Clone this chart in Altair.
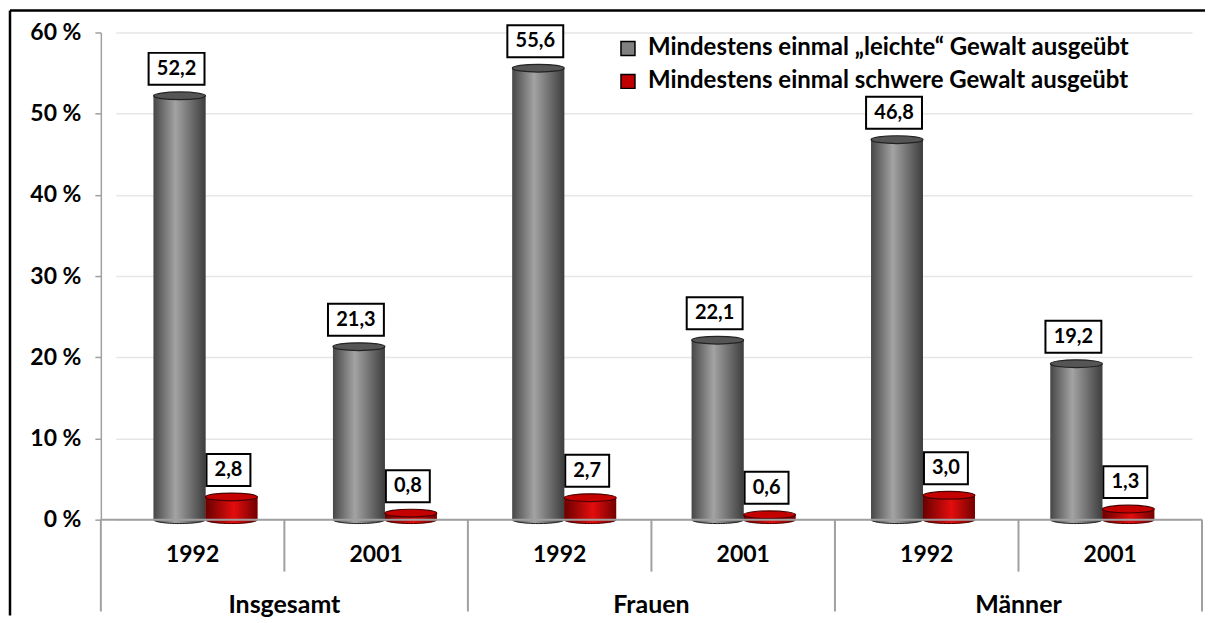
import altair as alt
import pandas as pd

# ---------------- data ----------------
groups = ["Insgesamt", "Insgesamt", "Frauen", "Frauen", "Männer", "Männer"]
years = ["1992", "2001", "1992", "2001", "1992", "2001"]
leichte = [52.2, 21.3, 55.6, 22.1, 46.8, 19.2]
schwere = [2.8, 0.8, 2.7, 0.6, 3.0, 1.3]
series_names = [
    "Mindestens einmal „leichte“ Gewalt ausgeübt",
    "Mindestens einmal schwere Gewalt ausgeübt",
]
y_ticks = [0, 10, 20, 30, 40, 50, 60]

# ---------------- styling ----------------
W, H = 1103, 488
FONT = "Lato"
GRAY, RED = "#808080", "#c00000"
BAR_W = 52

keys = [f"{g} {y}" for g, y in zip(groups, years)]


def fmt(v):
    return f"{v:.1f}".replace(".", ",")


rows = []
for k, g, yr, a, b in zip(keys, groups, years, leichte, schwere):
    rows.append(dict(key=k, group=g, year=yr, series=series_names[0], value=a, label=fmt(a), zero=0))
    rows.append(dict(key=k, group=g, year=yr, series=series_names[1], value=b, label=fmt(b), zero=0))
df = pd.DataFrame(rows)
cats = pd.DataFrame(dict(key=keys, group=groups, year=years))


def grad(c0, cm, c1, mid):
    return alt.Gradient(
        gradient="linear", x1=0, x2=1, y1=0, y2=0,
        stops=[alt.GradientStop(offset=0, color=c0),
               alt.GradientStop(offset=mid, color=cm),
               alt.GradientStop(offset=1, color=c1)],
    )


gray_grad = grad("#474747", "#a3a3a3", "#3d3d3d", 0.42)
red_grad = grad("#6a0000", "#e40d0d", "#720000", 0.55)

ELLIPSE = "M -1 0 A 1 0.15 0 1 0 1 0 A 1 0.15 0 1 0 -1 0 Z"


def box_path(w, h, dx):
    s = w / 2.0
    hx = 1.0
    hy = (h / 2.0) / s
    o = dx / s
    return f"M {-hx+o:.4f} {-hy:.4f} L {hx+o:.4f} {-hy:.4f} L {hx+o:.4f} {hy:.4f} L {-hx+o:.4f} {hy:.4f} Z"


# ---------------- bars (own x scale: back wall of the 3D plot) ----------------
xb = alt.X("key:N", scale=alt.Scale(domain=keys, range=[15, 1093], paddingInner=0, paddingOuter=0), axis=None)
xo = alt.XOffset("series:N", scale=alt.Scale(domain=series_names, paddingInner=0, paddingOuter=0.728))
yv = alt.Y(
    "value:Q",
    scale=alt.Scale(domain=[0, 60], nice=False),
    title=None,
    axis=alt.Axis(
        values=y_ticks, labelExpr="datum.value + ' %'",
        labelFont=FONT, labelFontSize=23, labelFontWeight="bold", labelColor="black",
        domainColor="#a0a0a0", domainWidth=1.5, tickColor="#a0a0a0", tickSize=6, tickWidth=1.5,
        labelPadding=14, grid=True, gridColor="#e6e6e6", gridWidth=1.5,
    ),
)

base_bars = alt.Chart(df).mark_bar().encode(
    x=xb, xOffset=xo, y=yv,
    color=alt.Color(
        "series:N",
        scale=alt.Scale(domain=series_names, range=[GRAY, RED]),
        legend=alt.Legend(
            title=None, orient="none", legendX=516, legendY=4,
            symbolType="square", symbolSize=196, symbolStrokeColor="black", symbolStrokeWidth=1.5,
            labelFont=FONT, labelFontSize=24, labelFontWeight="bold", labelColor="black",
            rowPadding=9, labelOffset=8, labelLimit=800,
        ),
    ),
)

layers = [base_bars]
for s, g, cap, capstroke, bw in [
    (series_names[0], gray_grad, "#555555", "#222222", 56),
    (series_names[1], red_grad, "#c40000", "#4a0000", 44),
]:
    sub = alt.Chart(df).transform_filter(alt.datum.series == s)
    layers.append(
        sub.mark_point(shape=ELLIPSE, size=BAR_W ** 2, filled=True, fill=g, opacity=1,
                       stroke=capstroke, strokeWidth=1)
        .encode(x=xb, xOffset=xo, y=alt.Y("zero:Q"))
    )
    layers.append(sub.mark_bar(fill=g).encode(x=xb, xOffset=xo, y=alt.Y("value:Q")))
    layers.append(
        sub.mark_point(shape=ELLIPSE, size=BAR_W ** 2, filled=True, fill=cap, opacity=1,
                       stroke=capstroke, strokeWidth=1.2)
        .encode(x=xb, xOffset=xo, y=alt.Y("value:Q"))
    )
    layers.append(
        sub.mark_point(shape=box_path(bw, 32, -3), size=bw ** 2, filled=True, fill="white",
                       opacity=1, stroke="black", strokeWidth=2, yOffset=-27)
        .encode(x=xb, xOffset=xo, y=alt.Y("value:Q"))
    )
    layers.append(
        sub.mark_text(font=FONT, fontSize=20, fontWeight="bold", color="black",
                      dx=-3, dy=-27, baseline="middle", align="center")
        .encode(x=xb, xOffset=xo, y=alt.Y("value:Q"), text="label:N")
    )

bars_group = alt.layer(*layers)

# ---------------- category axis (front edge) ----------------
def xa(band=0.5):
    return alt.X("key:N", bandPosition=band,
                 scale=alt.Scale(domain=keys, paddingInner=0, paddingOuter=0), axis=None)


AX = "#a0a0a0"
one = alt.Data(values=[{"a": 1}])
cat = alt.Chart(cats)

axis_layers = [
    alt.Chart(one).mark_rule(color=AX, strokeWidth=2).encode(
        x=alt.value(0), x2=alt.value(W), y=alt.value(H)),
    cat.transform_filter(alt.datum.year == "2001").mark_rule(color=AX, strokeWidth=2).encode(
        x=xa(0), y=alt.value(H), y2=alt.value(H + 52)),
    cat.transform_filter(alt.datum.year == "1992").mark_rule(color=AX, strokeWidth=2).encode(
        x=xa(0), y=alt.value(H), y2=alt.value(H + 92)),
    cat.transform_filter(alt.datum.key == keys[-1]).mark_rule(color=AX, strokeWidth=2).encode(
        x=xa(1), y=alt.value(H), y2=alt.value(H + 92)),
    cat.mark_text(font=FONT, fontSize=23, fontWeight="bold", color="black", baseline="middle").encode(
        x=xa(0.5), y=alt.value(H + 35), text="year:N"),
    cat.transform_filter(alt.datum.year == "1992").mark_text(
        font=FONT, fontSize=25, fontWeight="bold", color="black", baseline="middle").encode(
        x=xa(1), y=alt.value(H + 86), text="group:N"),
    # outer frame (top and left edges visible)
    alt.Chart(one).mark_rule(color="black", strokeWidth=2.5).encode(
        x=alt.value(-91), x2=alt.value(1106), y=alt.value(-22)),
    alt.Chart(one).mark_rule(color="black", strokeWidth=2.5).encode(
        x=alt.value(-91), y=alt.value(-22), y2=alt.value(584)),
]
axis_group = alt.layer(*axis_layers)

chart = (
    alt.layer(bars_group, axis_group)
    .resolve_scale(x="independent")
    .properties(width=W, height=H, padding=0, background="white")
    .configure_view(stroke=None)
)

chart.save("out.html", embed_options={"renderer": "svg", "actions": False})
